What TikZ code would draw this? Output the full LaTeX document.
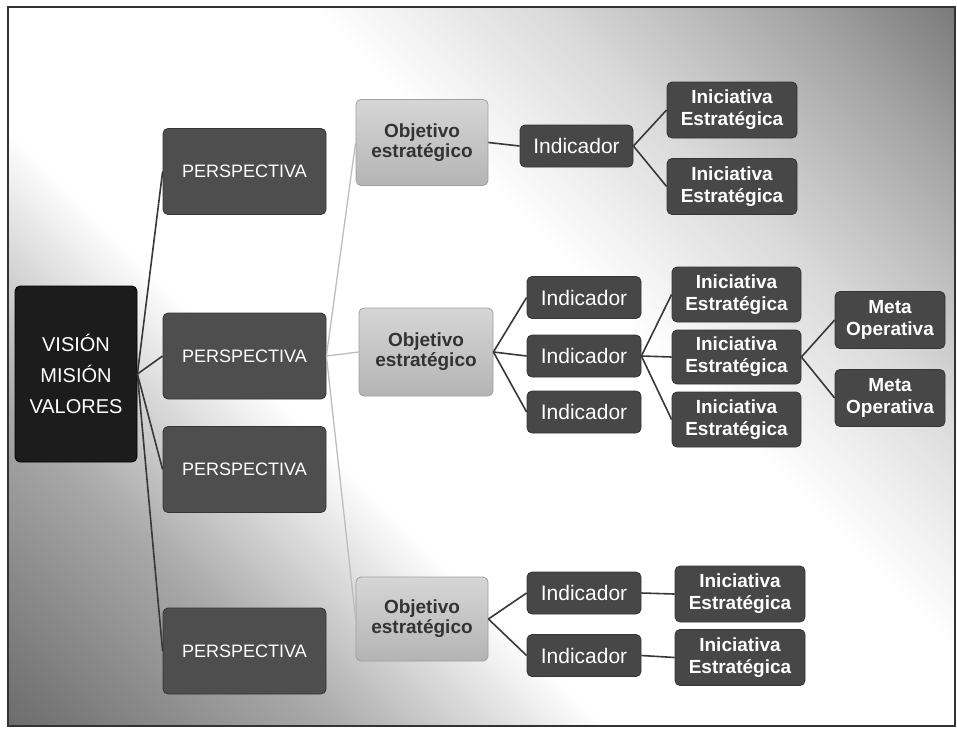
\documentclass[tikz,border=0pt]{standalone}
\usepackage{fontspec}
\setmainfont{Liberation Sans}
\definecolor{persp}{HTML}{4E4E4E}
\definecolor{perspborder}{HTML}{353535}
\definecolor{visionc}{HTML}{1C1C1C}
\definecolor{indc}{HTML}{474747}
\definecolor{bgdark}{HTML}{6A6A6A}
\definecolor{bgmid}{HTML}{A8A8A8}
\definecolor{bglight}{HTML}{DADADA}
\definecolor{objtop}{HTML}{D6D6D6}
\definecolor{objbot}{HTML}{B4B4B4}
\definecolor{linec}{HTML}{383838}
\definecolor{lightline}{HTML}{BDBDBD}
\pgfdeclareverticalshading{bgshade}{100bp}{color(0bp)=(bgdark); color(14bp)=(bgdark); color(28bp)=(bgmid); color(40bp)=(white); color(58bp)=(white); color(68bp)=(bglight); color(78bp)=(bgmid); color(88bp)=(bgdark); color(100bp)=(bgdark)}
\tikzset{
  box/.style={rectangle, rounded corners=5pt, inner sep=0pt, align=center, line width=0.8pt},
  visionbox/.style={box, fill=visionc, draw=black, text=white, minimum width=122pt, minimum height=176pt,
     font=\fontsize{20}{31}\selectfont},
  perspbox/.style={box, fill=persp, draw=perspborder, text=white, minimum width=163pt, minimum height=86pt,
     font=\fontsize{18}{20}\selectfont},
  objbox/.style={box, top color=objtop, bottom color=objbot, draw=gray!75, text=black!80, minimum width=132pt, minimum height=86pt,
     font=\fontsize{19}{20}\selectfont\bfseries},
  indbox/.style={box, fill=indc, draw=perspborder, text=white, minimum width=114pt, minimum height=42pt,
     font=\fontsize{21}{22}\selectfont},
  inibox/.style={box, fill=indc, draw=perspborder, text=white, minimum width=130pt, minimum height=56pt,
     font=\fontsize{19}{22}\selectfont\bfseries},
  metabox/.style={box, fill=indc, draw=perspborder, text=white, minimum width=110pt, minimum height=57pt,
     font=\fontsize{19}{22}\selectfont\bfseries},
  conn/.style={draw=linec, line width=1.6pt},
  lconn/.style={draw=lightline, line width=1.3pt}
}
\begin{document}
\begin{tikzpicture}[x=1pt,y=1pt]
\useasboundingbox (0,0) rectangle (957,-729);
\fill[white] (0,0) rectangle (957,-729);
% background
\shade[shading=bgshade, shading angle=-45] (8,-7) rectangle (955,-726);
\draw[black!80, line width=1.5pt] (8,-7) rectangle (955,-726);

% nodes
\node[visionbox] (vision) at (76,-374) {VISIÓN\\MISIÓN\\VALORES};
\node[perspbox] (p1) at (244.5,-171.5) {PERSPECTIVA};
\node[perspbox] (p2) at (244.5,-356) {PERSPECTIVA};
\node[perspbox] (p3) at (244.5,-469.5) {PERSPECTIVA};
\node[perspbox] (p4) at (244.5,-651) {PERSPECTIVA};

\node[objbox] (o1) at (422,-142.5) {Objetivo\\estratégico};
\node[objbox, minimum width=134pt, minimum height=88pt] (o2) at (426,-352) {Objetivo\\estratégico};
\node[objbox, minimum height=84pt] (o3) at (422,-619) {Objetivo\\estratégico};

\node[indbox, minimum width=113pt] (i1) at (576.5,-146) {Indicador};
\node[inibox] (e1a) at (732,-110) {Iniciativa\\Estratégica};
\node[inibox] (e1b) at (732,-186.5) {Iniciativa\\Estratégica};

\node[indbox] (i2a) at (584,-297.5) {Indicador};
\node[indbox] (i2b) at (584,-356) {Indicador};
\node[indbox] (i2c) at (584,-412) {Indicador};
\node[inibox, minimum width=129pt, minimum height=55pt] (e2a) at (736.5,-294.5) {Iniciativa\\Estratégica};
\node[inibox, minimum width=129pt, minimum height=54pt] (e2b) at (736.5,-357) {Iniciativa\\Estratégica};
\node[inibox, minimum width=129pt, minimum height=55pt] (e2c) at (736.5,-419.5) {Iniciativa\\Estratégica};
\node[metabox] (m1) at (890,-320) {Meta\\Operativa};
\node[metabox] (m2) at (890,-398) {Meta\\Operativa};

\node[indbox] (i3a) at (584,-593) {Indicador};
\node[indbox] (i3b) at (584,-655.5) {Indicador};
\node[inibox] (e3a) at (740,-594) {Iniciativa\\Estratégica};
\node[inibox] (e3b) at (740,-657.5) {Iniciativa\\Estratégica};

% connectors
\path[conn] (vision.east) -- (p1.west);
\path[conn] (vision.east) -- (p2.west);
\path[conn] (vision.east) -- (p3.west);
\path[conn] (vision.east) -- (p4.west);
\path[lconn] (p2.east) -- (o1.west);
\path[lconn] (p2.east) -- (o2.west);
\path[lconn] (p2.east) -- (o3.west);
\path[conn] (o1.east) -- (i1.west);
\path[conn] (i1.east) -- (e1a.west);
\path[conn] (i1.east) -- (e1b.west);
\path[conn] (o2.east) -- (i2a.west);
\path[conn] (o2.east) -- (i2b.west);
\path[conn] (o2.east) -- (i2c.west);
\path[conn] (i2b.east) -- (e2a.west);
\path[conn] (i2b.east) -- (e2b.west);
\path[conn] (i2b.east) -- (e2c.west);
\path[conn] (e2b.east) -- (m1.west);
\path[conn] (e2b.east) -- (m2.west);
\path[conn] (o3.east) -- (i3a.west);
\path[conn] (o3.east) -- (i3b.west);
\path[conn] (i3a.east) -- (e3a.west);
\path[conn] (i3b.east) -- (e3b.west);
\end{tikzpicture}
\end{document}
